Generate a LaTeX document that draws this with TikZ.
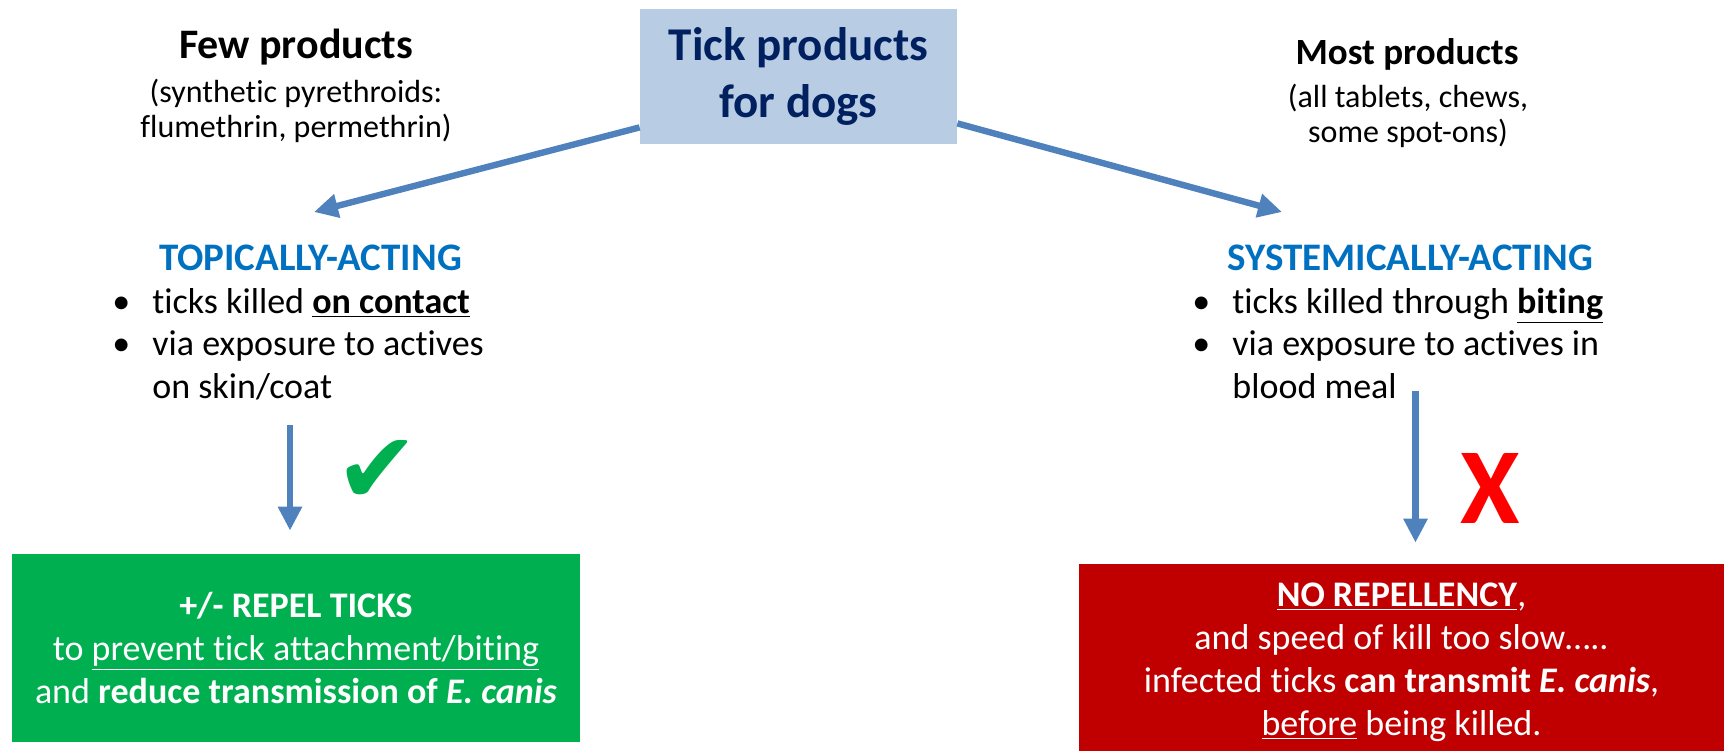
\documentclass[tikz,border=0pt]{standalone}
\usepackage{fontspec}
\setmainfont{Carlito}[Ligatures=NoCommon]
\newfontfamily\symbolfont{DejaVu Sans}
\usepackage{xcolor}
\usepackage{tikz}
\usetikzlibrary{arrows.meta}
\definecolor{titlefill}{RGB}{184,204,228}
\definecolor{titlenavy}{RGB}{0,32,96}
\definecolor{modeblue}{RGB}{0,112,192}
\definecolor{arrowblue}{RGB}{79,129,189}
\definecolor{okgreen}{RGB}{0,176,80}
\definecolor{badred}{RGB}{192,0,0}
\definecolor{crossred}{RGB}{255,0,0}
\newcommand{\bul}{\makebox[20pt][l]{\textbullet}}
\newcommand{\cont}{\hspace*{20pt}}

\begin{document}
\begin{tikzpicture}[
    x=0.5pt, y=-0.5pt,
    every node/.style={inner sep=0pt},
    titlebox/.style={rectangle, fill=titlefill, text=titlenavy, align=center,
                minimum width=158.5pt, minimum height=67.5pt,
                font=\fontsize{23.5}{28.5}\selectfont\bfseries},
    heading/.style={anchor=base, font=\fontsize{#1}{#1}\selectfont\bfseries},
    note/.style={anchor=base, align=center, font=\fontsize{16}{17.5}\selectfont},
    actionhead/.style={anchor=base, text=modeblue, font=\fontsize{19.5}{22}\selectfont\bfseries},
    items/.style={anchor=base west, align=left, font=\fontsize{18}{21.25}\selectfont},
    result/.style={rectangle, fill=#1, text=white, align=center,
                font=\fontsize{18}{21.5}\selectfont},
    arrow/.style={-{Triangle[length=12pt, width=11.5pt]}, line width=3.2pt, arrowblue},
]
    \useasboundingbox (0,0) rectangle (1724,750);

    % Title
    \node[titlebox] (title) at (798.5,76.5) {Tick products\\for dogs};

    % Left branch (base = last line)
    \node[heading=21] (few) at (296,58) {Few products};
    \node[note] (fewnote) at (296,137) {(synthetic pyrethroids:\\flumethrin, permethrin)};
    \node[actionhead] (topical) at (310.5,270) {TOPICALLY-ACTING};
    \node[items] (topitems) at (112,398)
        {\bul ticks killed \textbf{\underline{on contact}}\\
         \bul via exposure to actives\\
         \cont on skin/coat};

    % Right branch
    \node[heading=18.5] (most) at (1407,64) {Most products};
    \node[note] (mostnote) at (1408,142) {(all tablets, chews,\\some spot-ons)};
    \node[actionhead] (systemic) at (1410.5,270) {SYSTEMICALLY-ACTING};
    \node[items] (sysitems) at (1192,398)
        {\bul ticks killed through \textbf{\underline{biting}}\\
         \bul via exposure to actives in\\
         \cont blood meal};

    % Outcomes
    \node[result=okgreen, minimum width=284pt, minimum height=94pt] (repel) at (296,648)
        {\textbf{+/- REPEL TICKS}\\
         to \underline{prevent tick attachment/biting}\\
         and \textbf{reduce transmission of \textit{E. canis}}};
    \node[result=badred, minimum width=322.5pt, minimum height=98pt] (norepel) at (1401.5,662)
        {\underline{\textbf{NO REPELLENCY}},\\
         and speed of kill too slow…..\\
         infected ticks \textbf{can transmit \textit{E. canis}},\\
         \underline{before} being killed.};

    % Marks
    \node[text=okgreen, font=\symbolfont\fontsize{50}{50}\selectfont] (okmark) at (377.5,472) {✔};
    \node[text=crossred, font=\fontsize{54}{54}\selectfont\bfseries] (nomark) at (1490.5,488.5) {X};

    % Arrows
    \coordinate (ltip) at (314,212);
    \coordinate (rtip) at (1282,212);
    \coordinate (topdrop) at (290,425);
    \coordinate (sysdrop) at (1415.5,391);
    \draw[arrow] ([yshift=8.5pt]title.south west) -- (ltip);
    \draw[arrow] ([yshift=10.5pt]title.south east) -- (rtip);
    \draw[arrow, shorten >=11.5pt] (topdrop) -- (topdrop |- repel.north);
    \draw[arrow, shorten >=10.5pt] (sysdrop) -- (sysdrop |- norepel.north);
\end{tikzpicture}
\end{document}
